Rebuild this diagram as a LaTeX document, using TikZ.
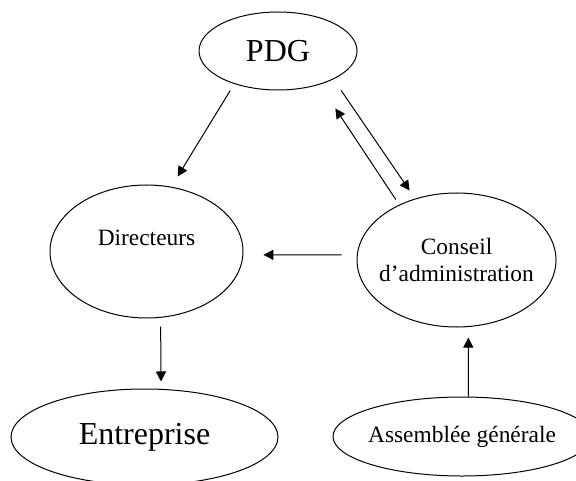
\documentclass[tikz,border=0pt]{standalone}
\usepackage{fontspec}
\setmainfont{Liberation Serif}
\usetikzlibrary{shapes.geometric,arrows.meta}
\tikzset{>={Triangle[length=5pt,width=5pt]},
	organe/.style={ellipse, draw, inner sep=-6pt, align=center, font=\fontsize{11.7}{13.8}\selectfont},
	titre/.style={organe, font=\fontsize{16}{19}\selectfont}}

\begin{document}
\begin{tikzpicture}[x=0.5pt, y=-0.5pt, line width=0.5pt]
		\useasboundingbox (0,0) rectangle (576,480);
		\node[titre, minimum width=79pt, minimum height=39pt]     (pdg) at (278,51)    {PDG};
		\node[organe, minimum width=96.5pt, minimum height=66.5pt] (dir) at (146.5,251.5) {Directeurs\\\mbox{}};
		\node[organe, minimum width=99.5pt, minimum height=67pt]   (ca)  at (456.5,260) {Conseil\\d'administration};
		\node[titre, minimum width=133.5pt, minimum height=48pt]   (ent) at (144.5,437) {Entreprise};
		\node[organe, minimum width=129pt, minimum height=39.5pt]  (ag)  at (462,436.5) {Assemblée générale};
		\path[->]
			(pdg.217) edge[shorten <=3.8pt, shorten >=6pt]     (dir.69)
			(ca.136)  edge[shorten <=3.1pt, shorten >=14.25pt] (pdg.321)
			(pdg.333) edge[shorten <=6.75pt, shorten >=4.85pt] (ca.124)
			(ca.177)  edge[shorten <=7.65pt, shorten >=10pt]   (dir.358)
			(dir.282) edge[shorten <=4.4pt, shorten >=3.7pt]   (ent.71)
			(ag.81)   edge[shorten >=5.25pt]                   (ca.280);
	\end{tikzpicture}
\end{document}
